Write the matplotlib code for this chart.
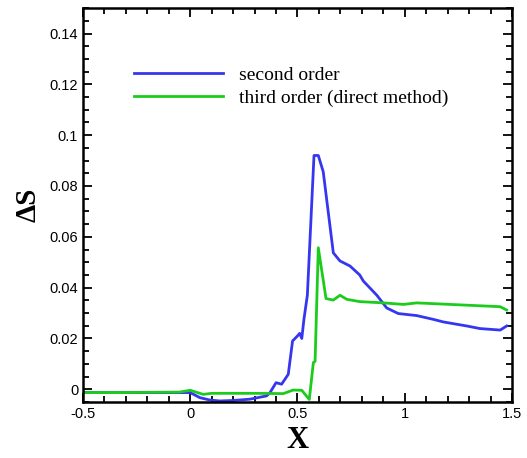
import matplotlib
matplotlib.use('Agg')
import matplotlib.pyplot as plt
from matplotlib.ticker import MultipleLocator

# second order
x2 = [-0.5, -0.3, -0.1, 0.0, 0.045, 0.09, 0.138, 0.2, 0.278, 0.356, 0.372, 0.40, 0.426,
      0.457, 0.477, 0.50, 0.51, 0.52, 0.53, 0.546, 0.577, 0.597, 0.62, 0.667, 0.698,
      0.745, 0.79, 0.807, 0.87, 0.916, 0.97, 1.056, 1.134, 1.18, 1.29, 1.35, 1.445, 1.475]
y2 = [-0.0013, -0.0013, -0.0013, -0.0013, -0.0033, -0.0042, -0.0046, -0.0044, -0.0039,
      -0.0026, -0.0013, 0.0026, 0.002, 0.0059, 0.019, 0.021, 0.022, 0.020, 0.0275, 0.037,
      0.092, 0.092, 0.0856, 0.0537, 0.0505, 0.0485, 0.045, 0.0426, 0.037, 0.032, 0.0298,
      0.029, 0.0275, 0.0265, 0.0249, 0.0239, 0.0233, 0.0249]

# third order (direct method)
x3 = [-0.5, -0.3, -0.05, 0.0, 0.06, 0.1, 0.2, 0.3, 0.434, 0.48, 0.52, 0.555, 0.574,
      0.582, 0.597, 0.633, 0.667, 0.698, 0.73, 0.79, 0.9, 0.994, 1.056, 1.21, 1.445, 1.475]
y3 = [-0.0013, -0.0013, -0.0011, -0.0004, -0.002, -0.0016, -0.0016, -0.0016, -0.0017,
      -0.0003, -0.0004, -0.004, 0.0105, 0.011, 0.0557, 0.0357, 0.0351, 0.037, 0.0354,
      0.0345, 0.034, 0.0334, 0.034, 0.0334, 0.0325, 0.0312]

fig = plt.figure(figsize=(5.27, 4.58), dpi=100)
ax = fig.add_axes([0.1575, 0.1223, 0.814, 0.860])

ax.plot(x2, y2, color='#3636f0', lw=2.0, label='second order')
ax.plot(x3, y3, color='#1ccc1c', lw=2.0, label='third order (direct method)')

ax.set_xlim(-0.5, 1.5)
ax.set_ylim(-0.005, 0.15)
ax.xaxis.set_minor_locator(MultipleLocator(0.1))
ax.yaxis.set_minor_locator(MultipleLocator(0.005))
ax.set_xticks([-0.5, 0, 0.5, 1, 1.5])
ax.set_xticklabels(['-0.5', '0', '0.5', '1', '1.5'])
ax.set_yticks([0, 0.02, 0.04, 0.06, 0.08, 0.1, 0.12, 0.14])
ax.set_yticklabels(['0', '0.02', '0.04', '0.06', '0.08', '0.1', '0.12', '0.14'])

ax.tick_params(which='both', direction='in', top=True, right=True, width=1.3,
               labelsize=10.5)
ax.tick_params(which='major', length=6.5)
ax.tick_params(which='minor', length=4)
for lab in ax.get_xticklabels() + ax.get_yticklabels():
    lab.set_family('Liberation Sans')
for s in ax.spines.values():
    s.set_linewidth(1.8)

ax.set_xlabel('X', family='Liberation Serif', fontweight='bold', fontsize=22, labelpad=4)
ax.set_ylabel('ΔS', family='Liberation Serif', fontweight='bold', fontsize=21, labelpad=6)

leg = ax.legend(loc='upper left', bbox_to_anchor=(0.078, 0.897), frameon=False,
                prop={'family': 'Liberation Serif', 'size': 14}, handlelength=4.6,
                handletextpad=0.8, labelspacing=0.27)

fig.savefig('out.png', dpi=100)
